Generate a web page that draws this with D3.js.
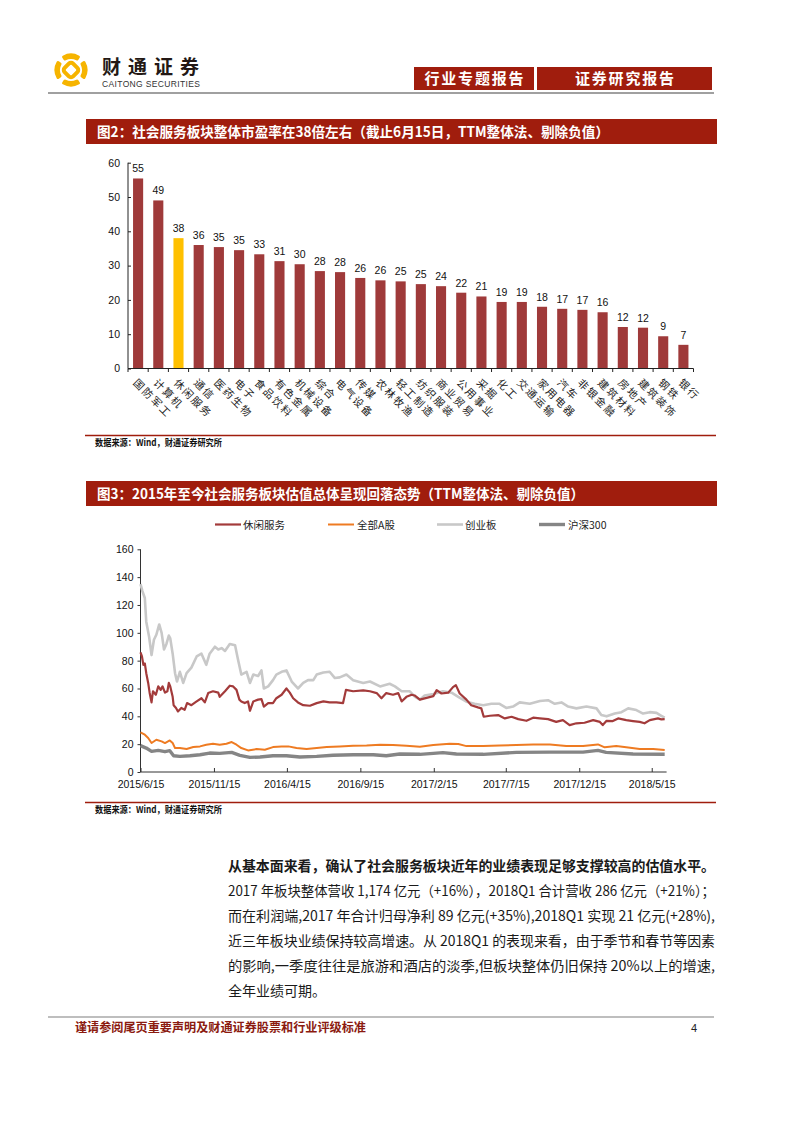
<!DOCTYPE html>
<html><head><meta charset="utf-8">
<script src="https://cdn.jsdelivr.net/npm/d3@7"></script>
<style>body{margin:0;background:#fff}svg{display:block}</style>
</head><body>
<script>
// ---------- Data ----------
const barCategories = ["国防军工","计算机","休闲服务","通信","医药生物","电子","食品饮料","有色金属","机械设备","综合","电气设备","传媒","农林牧渔","轻工制造","纺织服装","商业贸易","公用事业","采掘","化工","交通运输","家用电器","汽车","非银金融","建筑材料","房地产","建筑装饰","钢铁","银行"];
const barValues = [55.4,49.0,38.0,36.0,35.4,34.5,33.3,31.3,30.4,28.4,28.1,26.4,25.7,25.4,24.6,24.0,22.1,21.0,19.4,19.4,18.0,17.4,17.1,16.4,12.1,11.9,9.4,6.9];
const barHighlight = "休闲服务";
const barYTicks = [0,10,20,30,40,50,60];

const seriesNames = ["休闲服务","全部A股","创业板","沪深300"];

const leisureDates = ["2015-06-15","2015-06-18","2015-06-21","2015-06-24","2015-06-27","2015-07-01","2015-07-04","2015-07-08","2015-07-11","2015-07-17","2015-07-22","2015-07-27","2015-07-31","2015-08-05","2015-08-10","2015-08-13","2015-08-16","2015-08-21","2015-08-23","2015-08-28","2015-09-01","2015-09-08","2015-09-15","2015-09-20","2015-09-29","2015-10-10","2015-10-20","2015-10-27","2015-11-03","2015-11-13","2015-11-24","2015-11-27","2015-12-08","2015-12-18","2015-12-25","2016-01-01","2016-01-07","2016-01-11","2016-01-18","2016-01-25","2016-01-29","2016-02-05","2016-02-15","2016-02-22","2016-02-27","2016-03-07","2016-03-17","2016-03-24","2016-04-04","2016-04-14","2016-04-21","2016-04-28","2016-05-08","2016-05-19","2016-06-02","2016-06-16","2016-06-30","2016-07-13","2016-07-27","2016-08-10","2016-08-16","2016-08-31","2016-09-21","2016-10-05","2016-10-19","2016-10-29","2016-11-08","2016-11-22","2016-12-03","2016-12-10","2016-12-20","2016-12-31","2017-01-06","2017-01-17","2017-01-31","2017-02-14","2017-02-21","2017-03-03","2017-03-17","2017-03-27","2017-04-02","2017-04-10","2017-04-24","2017-05-04","2017-05-18","2017-05-25","2017-05-30","2017-06-12","2017-06-29","2017-07-13","2017-07-27","2017-08-10","2017-08-27","2017-09-10","2017-09-24","2017-10-11","2017-10-28","2017-11-11","2017-11-25","2017-12-09","2017-12-26","2018-01-13","2018-01-27","2018-02-02","2018-02-10","2018-02-23","2018-03-06","2018-03-23","2018-04-06","2018-04-20","2018-04-30","2018-05-11","2018-05-28","2018-06-04","2018-06-11"];
const leisureValues = [86,83,77,78,71,64,57,50,58,55.5,61.5,59,61.5,57,58,64,61.5,54,48,46,43.5,46,44.7,49.5,48,50.7,53,50,56.7,58,57,54,58,62,61.5,59,52,50.7,49.5,50.7,44,50.7,52,52.4,47,49.5,49.5,53,55.5,60,57,53,50,48,47.6,49.5,50.7,50,50,49.5,59,58,58.6,58,56.7,53,56.7,55.5,56.7,50.7,54,55.5,55,52,53.3,54.5,58.8,56.4,57,61,62.4,56.4,52,48,46.4,45.7,39.7,40.4,40.9,38.5,39.7,38,36.8,39,38.5,38,36,37.3,33.7,35,35.4,37.3,36,33.7,36.8,36.6,38.5,37.3,36.6,36,35,37.3,38.5,37.8,38];

const allADates = ["2015-06-15","2015-06-24","2015-07-01","2015-07-08","2015-07-18","2015-07-29","2015-08-05","2015-08-15","2015-08-21","2015-08-26","2015-09-05","2015-09-19","2015-10-03","2015-10-17","2015-10-30","2015-11-13","2015-11-27","2015-12-11","2015-12-22","2016-01-01","2016-01-11","2016-01-25","2016-02-12","2016-02-29","2016-03-17","2016-04-04","2016-04-18","2016-05-05","2016-05-26","2016-06-16","2016-07-07","2016-08-03","2016-08-31","2016-09-28","2016-10-26","2016-11-22","2016-12-20","2017-01-17","2017-02-14","2017-03-20","2017-04-07","2017-04-24","2017-05-29","2017-07-02","2017-08-06","2017-09-10","2017-10-15","2017-11-18","2017-12-23","2018-01-23","2018-02-06","2018-03-02","2018-03-23","2018-04-20","2018-05-18","2018-06-11"];
const allAValues = [28.5,26.8,24.4,20.8,23.2,22,20.8,22.7,20.8,17.2,17.2,16.5,17.9,18.4,19.6,20.3,19.6,20.3,21.5,19.6,17.2,15.5,16.5,16,17.9,18.4,18.4,17.2,16.5,17.2,17.9,18.4,18.9,19.1,19.6,19.4,18.9,18.2,19.4,20.3,20.1,18.6,18.6,19.1,19.4,19.8,19.8,18.6,18.6,19.8,17.7,18.6,17.7,16.5,16.5,15.8];

const chinextDates = ["2015-06-15","2015-06-19","2015-06-24","2015-06-27","2015-07-03","2015-07-08","2015-07-13","2015-07-18","2015-07-24","2015-07-29","2015-08-03","2015-08-08","2015-08-13","2015-08-16","2015-08-21","2015-08-26","2015-08-30","2015-09-05","2015-09-12","2015-09-19","2015-09-29","2015-10-10","2015-10-20","2015-10-30","2015-11-06","2015-11-17","2015-11-24","2015-12-01","2015-12-08","2015-12-18","2015-12-29","2016-01-04","2016-01-11","2016-01-22","2016-01-29","2016-02-05","2016-02-15","2016-02-22","2016-02-27","2016-03-07","2016-03-17","2016-03-24","2016-04-04","2016-04-14","2016-04-25","2016-05-08","2016-05-19","2016-05-29","2016-06-09","2016-06-16","2016-06-30","2016-07-13","2016-07-24","2016-08-03","2016-08-17","2016-08-31","2016-09-21","2016-10-05","2016-10-26","2016-11-15","2016-11-26","2016-12-10","2016-12-27","2017-01-07","2017-01-17","2017-01-27","2017-02-14","2017-03-06","2017-03-24","2017-04-07","2017-04-24","2017-05-11","2017-05-29","2017-06-15","2017-07-02","2017-07-16","2017-07-30","2017-08-13","2017-09-03","2017-09-24","2017-10-11","2017-10-25","2017-11-08","2017-11-22","2017-12-09","2017-12-30","2018-01-20","2018-01-30","2018-02-10","2018-02-27","2018-03-13","2018-03-27","2018-04-13","2018-04-27","2018-05-11","2018-05-25","2018-06-04","2018-06-11"];
const chinextValues = [135,130,125,108,97,84,95,98.6,106,100,88,92,98,96,85,71,65,72,64,71,75,83,85,77,85,90,88,89,87,92,91,81,70,72,64,70,69,73,60,61.5,66,70,72,73,65,60,64,66,66,70,71.5,72,67.5,68,70,66,64,65,61.5,63.4,61.5,58,58,54,52,55,56,58,57,54,50.5,49,48,49,49,46,47,50,49,51,51.6,49,50,47,45.7,47,45.7,41,40,42,43,45.7,44.5,42,43,42.5,40.4,39];

const hs300Dates = ["2015-06-15","2015-06-27","2015-07-08","2015-07-22","2015-08-05","2015-08-15","2015-08-23","2015-09-05","2015-09-26","2015-10-17","2015-11-06","2015-11-27","2015-12-22","2016-01-08","2016-01-29","2016-02-19","2016-03-17","2016-04-14","2016-05-12","2016-06-16","2016-07-20","2016-08-31","2016-10-12","2016-11-08","2016-12-06","2017-01-17","2017-02-14","2017-03-06","2017-04-03","2017-05-29","2017-08-06","2017-10-15","2017-12-23","2018-01-23","2018-02-09","2018-04-06","2018-06-11"];
const hs300Values = [18.9,17.2,14.8,15.5,14.6,15.3,11.7,11.2,11.7,12.4,13.6,13.4,14.1,12,10.5,10.8,11.7,11.7,10.8,11.2,12,12.4,12.4,11.7,12.9,12.7,13.4,13.9,12.9,12.7,14.1,14.3,14.3,15.5,14.1,12.9,12.7];

const lineXTicks = ["2015-06-15","2015-11-15","2016-04-15","2016-09-15","2017-02-15","2017-07-15","2017-12-15","2018-05-15"];
const lineYTicks = [0,20,40,60,80,100,120,140,160];

const paragraphLines = [
  "从基本面来看，确认了社会服务板块近年的业绩表现足够支撑较高的估值水平。",
  "2017 年板块整体营收 1,174 亿元（+16%），2018Q1 合计营收 286 亿元（+21%）；",
  "而在利润端,2017 年合计归母净利 89 亿元(+35%),2018Q1 实现 21 亿元(+28%),",
  "近三年板块业绩保持较高增速。从 2018Q1 的表现来看，由于季节和春节等因素",
  "的影响,一季度往往是旅游和酒店的淡季,但板块整体仍旧保持 20%以上的增速,",
  "全年业绩可期。"
];

// ---------- Styles ----------
const RED = "#a01d0d";
const CJK = "'Noto Sans CJK SC', sans-serif";
const LAT = "'Liberation Sans', Arial, sans-serif";
const seriesColors = ["#a33b3b","#ee7b22","#c8c8c8","#858585"];
const seriesWidths = [2.2,2,2.6,3.4];

const svg = d3.select("body").append("svg").attr("width",793).attr("height",1122);
svg.append("rect").attr("width",793).attr("height",1122).attr("fill","#fff");

// ---------- Header ----------
const logo = svg.append("g").attr("transform","translate(71,70)");
const arcGen = d3.arc().innerRadius(11).outerRadius(16.5).cornerRadius(1.5);
[0,90,180,270].forEach(a=>{
  const r = a*Math.PI/180;
  logo.append("path").attr("d",arcGen({startAngle:r-0.62,endAngle:r+0.62})).attr("fill","#f6b400");
});
logo.append("rect").attr("x",-6).attr("y",-6).attr("width",12).attr("height",12).attr("rx",3)
  .attr("transform","rotate(45)").attr("fill","none").attr("stroke","#f6b400").attr("stroke-width",4);

svg.append("text").attr("x",102).attr("y",74).text("财通证券")
  .attr("font-family",CJK).attr("font-weight",700).attr("font-size",19).attr("fill","#231815")
  .attr("textLength",97).attr("lengthAdjust","spacing");
svg.append("text").attr("x",102).attr("y",86.5).text("CAITONG SECURITIES")
  .attr("font-family",LAT).attr("font-size",8.5).attr("fill","#333").attr("textLength",98);

[["行业专题报告",414,120],["证券研究报告",537,175]].forEach(([t,x,w])=>{
  svg.append("rect").attr("x",x).attr("y",67).attr("width",w).attr("height",23).attr("fill",RED);
  svg.append("text").attr("x",x+w/2).attr("y",84).attr("text-anchor","middle").text(t)
    .attr("font-family",CJK).attr("font-weight",700).attr("font-size",15).attr("fill","#fff")
    .attr("textLength",99).attr("lengthAdjust","spacing");
});
svg.append("line").attr("x1",48).attr("x2",714).attr("y1",93).attr("y2",93).attr("stroke","#a0a0a0").attr("stroke-width",2);

// ---------- Title bars ----------
function titleBar(y, text, len){
  svg.append("rect").attr("x",86).attr("y",y).attr("width",631).attr("height",25).attr("fill",RED);
  svg.append("text").attr("x",97).attr("y",y+17.5).text(text)
    .attr("font-family",CJK).attr("font-weight",700).attr("font-size",14).attr("fill","#fff")
    .attr("textLength",len).attr("lengthAdjust","spacingAndGlyphs");
}
function sourceLine(y){
  svg.append("line").attr("x1",85).attr("x2",716).attr("y1",y).attr("y2",y).attr("stroke",RED).attr("stroke-width",1.5);
  svg.append("text").attr("x",95).attr("y",y+10).text("数据来源：Wind，财通证券研究所")
    .attr("font-family",CJK).attr("font-weight",700).attr("font-size",9.5).attr("fill","#111")
    .attr("textLength",127).attr("lengthAdjust","spacingAndGlyphs");
}
titleBar(119,"图2：社会服务板块整体市盈率在38倍左右（截止6月15日，TTM整体法、剔除负值）",512);
titleBar(481,"图3：2015年至今社会服务板块估值总体呈现回落态势（TTM整体法、剔除负值）",487);

// ---------- Bar chart ----------
const bx = d3.scaleBand().domain(barCategories).range([128,693.5]).paddingInner(0.5).paddingOuter(0.25);
const by = d3.scaleLinear().domain([0,60]).range([368.5,162.7]);
const bg = svg.append("g");
bg.selectAll("rect.bar").data(barCategories).join("rect").attr("class","bar")
  .attr("x",d=>bx(d)).attr("width",bx.bandwidth())
  .attr("y",(d,i)=>by(barValues[i])).attr("height",(d,i)=>by(0)-by(barValues[i]))
  .attr("fill",d=>d===barHighlight?"#ffc000":"#9f3a3a");
bg.selectAll("text.val").data(barCategories).join("text").attr("class","val")
  .attr("x",d=>bx(d)+bx.bandwidth()/2).attr("y",(d,i)=>by(barValues[i])-6)
  .attr("text-anchor","middle").attr("font-family",LAT).attr("font-size",10.5).attr("fill","#111")
  .text((d,i)=>d3.format(".0f")(barValues[i]));
// y axis
const byAxis = bg.append("g").attr("transform","translate(128,0)")
  .call(d3.axisLeft(by).tickValues(barYTicks).tickSize(-3).tickPadding(8));
byAxis.select(".domain").attr("d","M0,162.7V368.5").attr("stroke","#222");
byAxis.selectAll("line").attr("stroke","#222");
byAxis.selectAll("text").attr("font-family",LAT).attr("font-size",10.5).attr("fill","#111");
// x axis
bg.append("line").attr("x1",128).attr("x2",693.5).attr("y1",368.5).attr("y2",368.5).attr("stroke","#222");
const step = bx.step();
bg.selectAll("line.xt").data(d3.range(barCategories.length+1)).join("line").attr("class","xt")
  .attr("x1",i=>128+i*step).attr("x2",i=>128+i*step).attr("y1",368.5).attr("y2",372).attr("stroke","#222");
bg.selectAll("text.cat").data(barCategories).join("text").attr("class","cat")
  .attr("transform",d=>`translate(${bx(d)+bx.bandwidth()/2-3},381) rotate(45)`)
  .attr("dy","0.35em").attr("font-family",CJK).attr("font-size",10.5).attr("fill","#222")
  .attr("letter-spacing",1.8)
  .text(d=>d);

sourceLine(435.5);

// ---------- Line chart ----------
const parse = d3.timeParse("%Y-%m-%d");
const lx = d3.scaleTime().domain([parse("2015-06-15"),parse("2018-06-15")]).range([140.5,666.6]);
const ly = d3.scaleLinear().domain([0,160]).range([772,549.3]);
const lg = svg.append("g");
const yAx = lg.append("g").attr("transform","translate(140.5,0)")
  .call(d3.axisLeft(ly).tickValues(lineYTicks).tickSize(3).tickPadding(4));
yAx.select(".domain").attr("d","M0,549.3V772").attr("stroke","#333");
yAx.selectAll("line").attr("stroke","#333");
yAx.selectAll("text").attr("font-family",LAT).attr("font-size",10.5).attr("fill","#111");
const xAx = lg.append("g").attr("transform","translate(0,772)")
  .call(d3.axisBottom(lx).tickValues(lineXTicks.map(parse)).tickSize(-4).tickPadding(9).tickFormat(d3.timeFormat("%Y/%-m/%-d")));
xAx.select(".domain").attr("d","M140.5,0H666.6").attr("stroke","#333");
xAx.selectAll("line").attr("stroke","#333");
xAx.selectAll("text").attr("font-family",LAT).attr("font-size",10.5).attr("fill","#111");

const seriesData = [
  [leisureDates,leisureValues],[allADates,allAValues],[chinextDates,chinextValues],[hs300Dates,hs300Values]
].map(([ds,vs])=>ds.map((d,i)=>({date:parse(d),value:vs[i]})));
const lineGen = d3.line().x(d=>lx(d.date)).y(d=>ly(d.value)).curve(d3.curveLinear);
const order = [2,0,1,3];
order.forEach(k=>{
  lg.append("path").datum(seriesData[k]).attr("d",lineGen).attr("fill","none")
    .attr("stroke",seriesColors[k]).attr("stroke-width",seriesWidths[k]).attr("stroke-linejoin","round");
});
// legend
const legendPos = [[215,243],[328,357],[437,465],[539,568]];
seriesNames.forEach((n,k)=>{
  const [lx1,tx] = legendPos[k];
  lg.append("line").attr("x1",lx1).attr("x2",lx1+26).attr("y1",524.5).attr("y2",524.5)
    .attr("stroke",seriesColors[k]).attr("stroke-width",seriesWidths[k]);
  lg.append("text").attr("x",tx).attr("y",528.5).text(n)
    .attr("font-family",CJK).attr("font-size",10.5).attr("fill","#222");
});

sourceLine(802.5);

// ---------- Paragraph ----------
paragraphLines.forEach((t,i)=>{
  const tx = svg.append("text").attr("x",228).attr("y",871+i*25).text(t)
    .attr("font-family",CJK).attr("font-size",14).attr("fill","#1a1a1a")
    .attr("font-weight",i===0?700:400);
  if(i<paragraphLines.length-1) tx.attr("textLength",487).attr("lengthAdjust","spacingAndGlyphs");
});

// ---------- Footer ----------
svg.append("line").attr("x1",48).attr("x2",714).attr("y1",1017).attr("y2",1017).attr("stroke","#a8a8a8").attr("stroke-width",1.5);
svg.append("text").attr("x",75).attr("y",1031.5).text("谨请参阅尾页重要声明及财通证券股票和行业评级标准")
  .attr("font-family",CJK).attr("font-weight",700).attr("font-size",12).attr("fill","#8b1a0f")
  .attr("textLength",291).attr("lengthAdjust","spacingAndGlyphs");
svg.append("text").attr("x",694).attr("y",1031.5).text("4").attr("text-anchor","middle")
  .attr("font-family",LAT).attr("font-size",11).attr("fill","#222");
</script>
</body></html>
